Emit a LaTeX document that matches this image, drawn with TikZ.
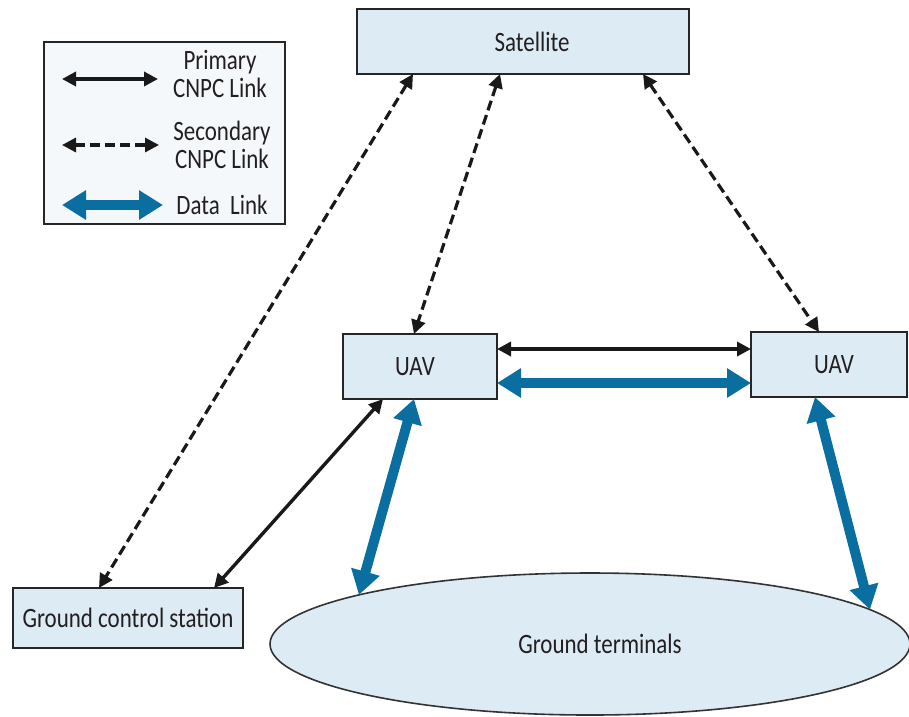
\documentclass[tikz,border=0pt]{standalone}
\usepackage{fontspec}
\setmainfont{Carlito}[FakeStretch=0.82]
\usetikzlibrary{arrows.meta,shapes.geometric}
\definecolor{boxfill}{HTML}{DDEBF4}
\definecolor{legfill}{HTML}{F4F8FB}
\definecolor{datablue}{HTML}{0A6FA0}
\definecolor{txt}{HTML}{231F20}
\tikzset{
  box/.style={draw=black!85, line width=2.4pt, fill=boxfill, inner sep=0pt, outer sep=0pt, text=txt, font=\fontsize{28}{30}\selectfont},
  legtext/.style={text=txt, font=\fontsize{28}{28}\selectfont, align=center, inner sep=0pt},
  primarylink/.style={line width=3.4pt, black!90, {Triangle[length=14pt,width=14pt]}-{Triangle[length=14pt,width=14pt]}},
  secondarylink/.style={line width=3.2pt, black!90, dash pattern=on 10pt off 5pt, {Triangle[length=14pt,width=14pt]}-{Triangle[length=14pt,width=14pt]}},
  datalink/.style={line width=10pt, datablue, {Triangle[length=24pt,width=28pt]}-{Triangle[length=24pt,width=28pt]}}
}
\begin{document}
\begin{tikzpicture}[x=1pt,y=-1pt]
\useasboundingbox (0,0) rectangle (909,716);
% legend
\node[draw=black!85, line width=2.4pt, fill=legfill, minimum width=241pt, minimum height=182pt, inner sep=0pt] (leg) at (164.5,133) {};
\coordinate (lp1) at (62,79);
\coordinate (lp2) at (158,79);
\coordinate (ls1) at (62,145);
\coordinate (ls2) at (159,145);
\coordinate (ld1) at (62,205);
\coordinate (ld2) at (163,205);
\draw[primarylink] (lp1) -- (lp2);
\draw[secondarylink] (ls1) -- (ls2);
\draw[datalink] (ld1) -- (ld2);
\node[legtext] (tprim) at (220,74) {Primary\\CNPC Link};
\node[legtext] (tsec) at (222,145) {Secondary\\CNPC Link};
\node[legtext] (tdata) at (222,205) {Data~~Link};
% boxes
\node[box, minimum width=332pt, minimum height=65pt] (sat) at (523,41.5) {\hspace*{18pt}Satellite};
\node[box, minimum width=154pt, minimum height=65pt] (uavL) at (420,366.5) {UAV\hspace*{10pt}};
\node[box, minimum width=156pt, minimum height=65pt] (uavR) at (829,364.5) {\hspace*{10pt}UAV};
\node[box, minimum width=230pt, minimum height=60pt] (gcs) at (128,618) {Ground control station};
\node[ellipse, draw=black!80, line width=1.6pt, fill=boxfill, inner sep=0pt, outer sep=0pt, minimum width=640pt, minimum height=142pt, text=txt, font=\fontsize{28}{30}\selectfont] (gt) at (590,644) {\hspace*{20pt}Ground terminals\raisebox{0pt}[0pt][0pt]{}};
% links
\draw[secondarylink] ([xshift=56pt]sat.south west) -- ([xshift=86pt]gcs.north west);
\draw[secondarylink] ([xshift=143pt]sat.south west) -- ([xshift=71pt]uavL.north west);
\draw[secondarylink] ([xshift=286pt]sat.south west) -- ([xshift=68pt]uavR.north west);
\draw[primarylink] ([xshift=40pt]uavL.south west) -- ([xshift=201pt]gcs.north west);
\draw[primarylink] ([yshift=-15pt]uavL.north east) -- ([yshift=-17pt]uavR.north west);
\draw[datalink] ([yshift=-49pt]uavL.north east) -- ([yshift=-51pt]uavR.north west);
\draw[datalink] ([xshift=71pt]uavL.south west) -- (gt.168);
\draw[datalink] ([xshift=64pt]uavR.south west) -- (gt.7);
\end{tikzpicture}
\end{document}
